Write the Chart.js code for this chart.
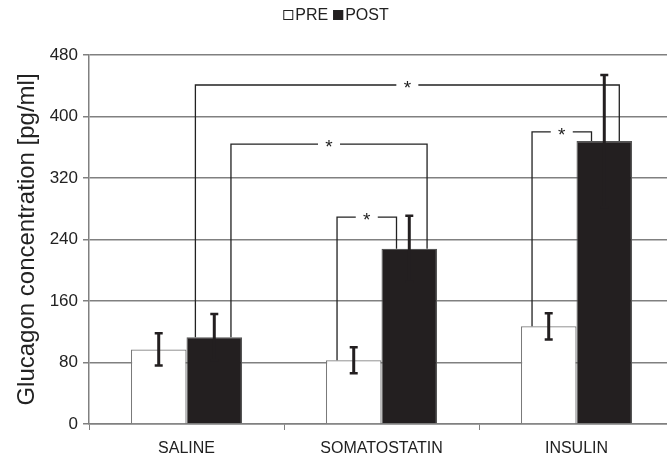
<!DOCTYPE html>
<html>
<head>
<meta charset="utf-8">
<script src="https://cdn.jsdelivr.net/npm/chart.js@4.4.0/dist/chart.umd.min.js"></script>
<style>
  html, body { margin: 0; padding: 0; background: #fff; overflow: hidden; }
  #wrap { width: 667px; height: 457px; overflow: hidden; }
</style>
</head>
<body>
<div id="wrap"><canvas id="glucagon" width="675" height="457"></canvas></div>
<script>
// data
var groups = ["SALINE", "SOMATOSTATIN", "INSULIN"];
var seriesNames = ["PRE", "POST"];
var preValues = [97, 83, 127];
var preErrors = [21, 17, 17];
var postValues = [113, 228, 368];
var postErrors = [30, 43, 86];
var yTicks = [0, 80, 160, 240, 320, 400, 480];

// significance brackets: [dataset, group, position inside bar 0..1]
var brackets = [
    { from: [1, 0, 0.16], to: [1, 2, 0.77], y: 441 },
    { from: [1, 0, 0.8], to: [1, 1, 0.82], y: 364 },
    { from: [0, 1, 0.2], to: [1, 1, 0.27], y: 269 },
    { from: [0, 2, 0.2], to: [1, 2, 0.27], y: 380 },
];

var FONT = "'Liberation Sans', Arial, sans-serif";
Chart.defaults.font.family = FONT;
Chart.defaults.color = "#222";

// error bars, brackets and the small legend on top
var overlay = {
    id: "overlay",
    afterDatasetsDraw: function (chart) {
        var c = chart.ctx;
        var yScale = chart.scales.y;
        var errs = [preErrors, postErrors];
        var vals = [preValues, postValues];
        c.save();
        // error bars
        c.strokeStyle = "#231f20";
        c.lineCap = "butt";
        for (var d = 0; d < 2; d++) {
            var meta = chart.getDatasetMeta(d);
            meta.data.forEach(function (bar, i) {
                var top = yScale.getPixelForValue(vals[d][i] + errs[d][i]);
                var bot = yScale.getPixelForValue(vals[d][i] - errs[d][i]);
                c.lineWidth = 3;
                c.beginPath();
                c.moveTo(bar.x, top);
                c.lineTo(bar.x, bot);
                c.stroke();
                c.lineWidth = 2.5;
                c.beginPath();
                c.moveTo(bar.x - 4, top);
                c.lineTo(bar.x + 4, top);
                c.moveTo(bar.x - 4, bot);
                c.lineTo(bar.x + 4, bot);
                c.stroke();
            });
        }
        // brackets
        c.lineWidth = 1.3;
        c.strokeStyle = "#222";
        c.fillStyle = "#222";
        c.font = "19px " + FONT;
        c.textAlign = "center";
        c.textBaseline = "middle";
        function px(p) {
            var bar = chart.getDatasetMeta(p[0]).data[p[1]];
            return bar.x - bar.width / 2 + p[2] * bar.width;
        }
        brackets.forEach(function (b) {
            var x1 = px(b.from), x2 = px(b.to);
            var y = yScale.getPixelForValue(b.y);
            var y1 = yScale.getPixelForValue(vals[b.from[0]][b.from[1]]);
            var y2 = yScale.getPixelForValue(vals[b.to[0]][b.to[1]]);
            var mid = (x1 + x2) / 2;
            var gap = 11;
            c.beginPath();
            c.moveTo(x1, y1);
            c.lineTo(x1, y);
            c.lineTo(mid - gap, y);
            c.moveTo(mid + gap, y);
            c.lineTo(x2, y);
            c.lineTo(x2, y2);
            c.stroke();
            c.fillText("*", mid, y + 4);
        });

        // legend: box right next to text
        var fills = chart.data.datasets.map(function (ds) { return ds.backgroundColor; });
        c.font = "16px " + FONT;
        c.textAlign = "left";
        var box = 10, gapBox = 2, gapItem = 5;
        var total = 0;
        seriesNames.forEach(function (n, i) {
            total += box + gapBox + c.measureText(n).width + (i ? gapItem : 0);
        });
        var lx = 336 - total / 2, ly = 15;
        seriesNames.forEach(function (n, i) {
            if (i) lx += gapItem;
            c.fillStyle = fills[i];
            c.fillRect(lx, ly - box / 2, box, box);
            c.strokeStyle = "#222";
            c.lineWidth = 1;
            c.strokeRect(lx + 0.5, ly - box / 2 + 0.5, box - 1, box - 1);
            lx += box + gapBox;
            c.fillStyle = "#222";
            c.fillText(n, lx, ly + 1);
            lx += c.measureText(n).width;
        });
        c.restore();
    },
};

var ctx = document.getElementById("glucagon").getContext("2d");
var chart = new Chart(ctx, {
    type: "bar",
    data: {
        labels: groups,
        datasets: [
            {
                label: seriesNames[0],
                data: preValues,
                backgroundColor: "#ffffff",
                borderColor: "#7a7a7a",
                borderWidth: 1.2,
            },
            {
                label: seriesNames[1],
                data: postValues,
                backgroundColor: "#231f20",
                borderColor: "#555555",
                borderWidth: 1.2,
            },
        ],
    },
    options: {
        responsive: false,
        animation: false,
        layout: { padding: { top: 55, left: 0, right: 1, bottom: 0 } },
        datasets: { bar: { categoryPercentage: 0.57, barPercentage: 1 } },
        plugins: {
            tooltip: { enabled: false },
            legend: { display: false },
        },
        scales: {
            x: {
                offset: true,
                afterFit: function (scale) { scale.height = 33; },
                grid: {
                    offset: true,
                    drawOnChartArea: false,
                    tickLength: 6,
                    color: "#808080",
                },
                border: { color: "#808080", width: 1.5 },
                ticks: { font: { size: 16 }, color: "#222", padding: 9 },
            },
            y: {
                min: 0,
                max: 480,
                afterBuildTicks: function (scale) {
                    scale.ticks = yTicks.map(function (v) { return { value: v }; });
                },
                afterFit: function (scale) { scale.width = 89; },
                grid: { color: "#808080", lineWidth: 1.5, tickLength: 6 },
                border: { color: "#808080", width: 1.5 },
                ticks: { font: { size: 17 }, color: "#222", padding: 5 },
                title: {
                    display: true,
                    text: "Glucagon concentration [pg/ml]",
                    font: { size: 24 },
                    color: "#222",
                    padding: 13,
                },
            },
        },
    },
    plugins: [overlay],
});
</script>
</body>
</html>
